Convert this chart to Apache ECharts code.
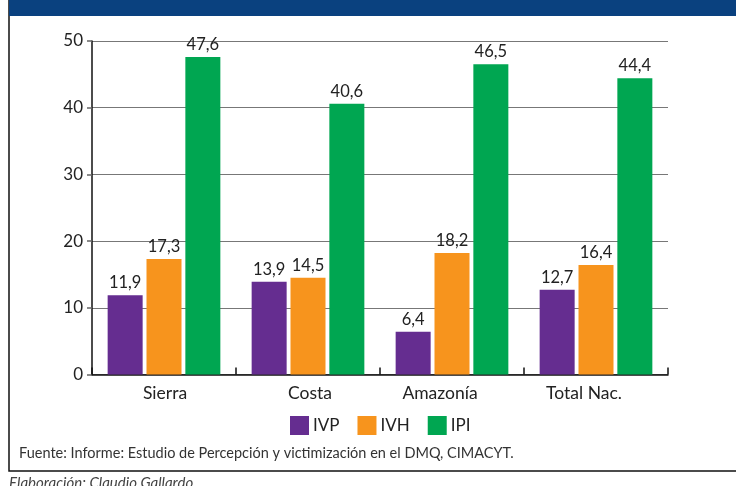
<!DOCTYPE html>
<html><head><meta charset="utf-8">
<script src="https://cdn.jsdelivr.net/npm/echarts@6/dist/echarts.min.js"></script>
<style>html,body{margin:0;padding:0;background:#fff}#c{width:736px;height:486px}</style>
</head><body><div id="c"></div>
<script>
const categories = ['Sierra', 'Costa', 'Amazonía', 'Total Nac.'];
const ivp = [11.9, 13.9, 6.4, 12.7];
const ivh = [17.3, 14.5, 18.2, 16.4];
const ipi = [47.6, 40.6, 46.5, 44.4];
const seriesNames = ['IVP', 'IVH', 'IPI'];
const colors = ['#652D90', '#F7941D', '#00A651'];
const sourceText = 'Fuente: Informe: Estudio de Percepción y victimización en el DMQ, CIMACYT.';
const creditText = 'Elaboración: Claudio Gallardo';

const FONT = 'Lato, "Open Sans", sans-serif';
// horizontal label shifts (px) seen in the original layout
const labelShift = [1, 2, -12, -12];
const xData = categories.map((c, i) => ({
  value: c,
  textStyle: { padding: labelShift[i] >= 0 ? [0, 0, 0, 2 * labelShift[i]] : [0, -2 * labelShift[i], 0, 0] }
}));

const chart = echarts.init(document.getElementById('c'));
const fmt = p => p.value.toFixed(1).replace('.', ',');
function mk(name, data, color) {
  return {
    name, type: 'bar', data, barWidth: 35, barGap: '11%',
    itemStyle: { color },
    label: { show: true, position: 'top', distance: 4, formatter: fmt,
      fontFamily: FONT, fontSize: 16.5, color: '#222' }
  };
}
chart.setOption({
  animation: false,
  graphic: [
    { type: 'rect', shape: { x: 9, y: 0, width: 740, height: 471 },
      style: { fill: 'none', stroke: '#111', lineWidth: 1.5 }, z: 100 },
    { type: 'rect', shape: { x: 9, y: 0, width: 740, height: 16 },
      style: { fill: '#0A417F' }, z: 101 },
    { type: 'text', left: 19, top: 446,
      style: { text: sourceText, font: '14.5px ' + FONT, fill: '#333' } },
    { type: 'text', left: 9, top: 476,
      style: { text: creditText, font: 'italic 15px ' + FONT, fill: '#444' } }
  ],
  grid: { left: 92, right: 68, top: 41, bottom: 111.5 },
  legend: {
    data: seriesNames, left: 285, top: 411, icon: 'rect',
    itemWidth: 19, itemHeight: 19, itemGap: 18,
    textStyle: { fontFamily: FONT, fontSize: 17, color: '#222', padding: [0, 0, 0, -1] }
  },
  xAxis: {
    type: 'category', data: xData,
    axisLine: { lineStyle: { color: '#111', width: 1.5 } },
    axisTick: { show: true, inside: true, length: 7, lineStyle: { color: '#111', width: 1.5 } },
    axisLabel: { fontFamily: FONT, fontSize: 17.5, color: '#222', margin: 10 }
  },
  yAxis: {
    type: 'value', min: 0, max: 50, interval: 10,
    axisLine: { show: true, lineStyle: { color: '#111', width: 1.5 } },
    axisTick: { show: true, length: 5, lineStyle: { color: '#666', width: 1.5 } },
    splitLine: { lineStyle: { color: '#777', width: 1.2 } },
    axisLabel: { fontFamily: FONT, fontSize: 17, color: '#222', margin: 9 }
  },
  series: [mk(seriesNames[0], ivp, colors[0]), mk(seriesNames[1], ivh, colors[1]), mk(seriesNames[2], ipi, colors[2])]
});
</script></body></html>
